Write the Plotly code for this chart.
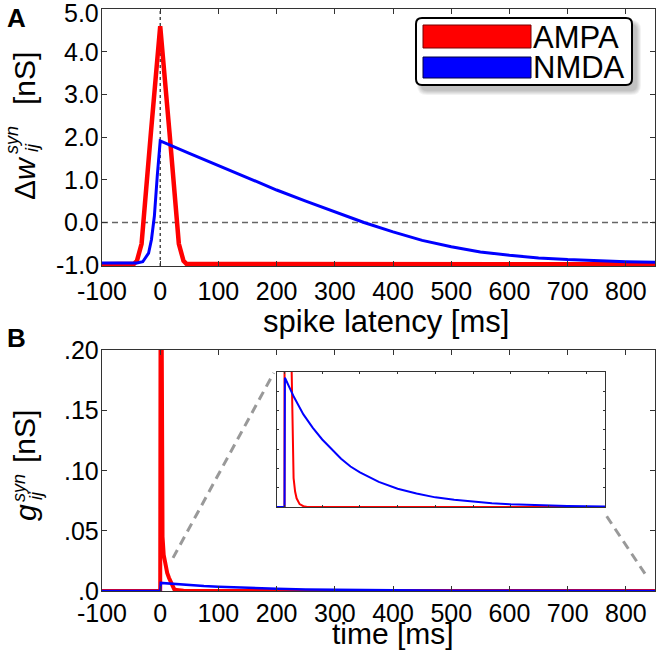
import plotly.graph_objects as go

# ---- data ----
# panel A: STDP window, spike latency [ms] vs weight change [nS]
lat_ampa = [-100, -45, -40, -32, -16, 0, 16, 32, 40, 45, 850]
dw_ampa = [-0.98, -0.97, -0.9, -0.5, 2.1, 4.6, 2.1, -0.5, -0.9, -0.97, -0.98]

lat_nmda = [-100, -40, -30, -20, -15, -10, -5, 0, 50, 100, 150, 200, 250, 300,
            350, 400, 450, 500, 550, 600, 650, 700, 750, 800, 850]
dw_nmda = [-0.95, -0.95, -0.92, -0.72, -0.4, 0.15, 1.1, 1.91, 1.62, 1.33, 1.04,
           0.76, 0.5, 0.25, 0.0, -0.22, -0.42, -0.57, -0.69, -0.77, -0.83,
           -0.87, -0.9, -0.92, -0.93]

# panel B: conductance time course, time [ms] vs g [nS]
t_ampa = [-100, 0, 1, 2, 3, 4, 6, 9, 12, 15, 18, 20, 22, 24, 28, 32, 40, 50, 60, 850]
g_ampa = [0, 0, 0.4, 0.15, 0.07, 0.045, 0.03, 0.022, 0.015, 0.011, 0.008, 0.005,
          0.0025, 0.0015, 0.0008, 0.00045, 0.00015, 0.00004, 0, 0]

t_nmda = [-100, 0, 1, 25, 50, 75, 100, 125, 150, 175, 200, 250, 300, 350, 400,
          450, 500, 550, 600, 650, 700, 750, 850]
g_nmda = [0, 0, 0.0067, 0.0057, 0.0048, 0.0041, 0.0035, 0.0030, 0.0025, 0.0021,
          0.0018, 0.0013, 0.00095, 0.0007, 0.0005, 0.00037, 0.00027, 0.0002,
          0.00014, 0.0001, 0.00007, 0.00005, 0.00002]

x_ticks = [-100, 0, 100, 200, 300, 400, 500, 600, 700, 800]
x_tick_text = ["-100", "0", "100", "200", "300", "400", "500", "600", "700", "800"]
yA_ticks = [-1, 0, 1, 2, 3, 4, 5]
yA_tick_text = ["-1.0", "0.0", "1.0", "2.0", "3.0", "4.0", "5.0"]
yB_ticks = [0, 0.05, 0.10, 0.15, 0.20]
yB_tick_text = [".0", ".05", ".10", ".15", ".20"]
inset_xticks = [0, 100, 200, 300, 400, 500, 600, 700, 800]
inset_yticks = [0, 0.001, 0.002, 0.003, 0.004, 0.005, 0.006, 0.007]

names = ["AMPA", "NMDA"]
RED = "#ff0000"
BLUE = "#0000ff"

# ---- geometry (window pixels) ----
W, H = 666, 657
L, R, T, B = 102, 655, 9, 591       # plot area
PW, PH = R - L, B - T


def px(x):
    return (x - L) / PW


def py(y):
    return 1 - (y - T) / PH


FONT = "Liberation Sans, Arial, sans-serif"

fig = go.Figure()

fig.add_trace(go.Scatter(x=lat_ampa, y=dw_ampa, mode="lines", line=dict(color=RED, width=4.5),
                         xaxis="x", yaxis="y", name=names[0]))
fig.add_trace(go.Scatter(x=lat_nmda, y=dw_nmda, mode="lines", line=dict(color=BLUE, width=3),
                         xaxis="x", yaxis="y", name=names[1]))
fig.add_trace(go.Scatter(x=t_ampa, y=g_ampa, mode="lines", line=dict(color=RED, width=4),
                         xaxis="x2", yaxis="y2", name=names[0]))
fig.add_trace(go.Scatter(x=t_nmda, y=g_nmda, mode="lines", line=dict(color=BLUE, width=2.5),
                         xaxis="x2", yaxis="y2", name=names[1]))
fig.add_trace(go.Scatter(x=t_ampa, y=g_ampa, mode="lines", line=dict(color=RED, width=2),
                         xaxis="x3", yaxis="y3", name=names[0]))
fig.add_trace(go.Scatter(x=t_nmda, y=g_nmda, mode="lines", line=dict(color=BLUE, width=2),
                         xaxis="x3", yaxis="y3", name=names[1]))

ax = dict(showline=True, linecolor="#333", linewidth=1, mirror="ticks", ticks="inside",
          ticklen=5, tickcolor="#333", showgrid=False, zeroline=False, automargin=False,
          ticklabeloverflow="allow",
          tickfont=dict(family=FONT, size=25, color="black"))
yax = dict(ax, showticklabels=False)   # y tick labels are placed as annotations below

fig.update_layout(
    width=W, height=H,
    margin=dict(l=L, r=W - R, t=T, b=H - B),
    paper_bgcolor="white", plot_bgcolor="white",
    showlegend=False,
    font=dict(family=FONT, color="black"),
    xaxis=dict(ax, domain=[0, 1], anchor="y", range=[-100, 850], ticklabelstandoff=3,
               tickvals=x_ticks, ticktext=x_tick_text),
    yaxis=dict(yax, domain=[py(266), 1], anchor="x", range=[-1.02, 5.0],
               tickvals=yA_ticks),
    xaxis2=dict(ax, domain=[0, 1], anchor="y2", range=[-100, 850], ticklabelstandoff=0,
                tickvals=x_ticks, ticktext=x_tick_text),
    yaxis2=dict(yax, domain=[0, py(350)], anchor="x2", range=[0, 0.2],
                tickvals=yB_ticks),
    xaxis3=dict(ax, domain=[px(277), px(605)], anchor="y3", range=[-20, 850],
                tickvals=inset_xticks, showticklabels=False, ticklen=2),
    yaxis3=dict(ax, domain=[py(507), py(372)], anchor="x3", range=[0, 0.007],
                tickvals=inset_yticks, showticklabels=False, ticklen=2),
)

shapes = []
# reference lines in panel A
shapes.append(dict(type="line", xref="x", yref="y", x0=-100, x1=850, y0=0, y1=0,
                   line=dict(color="#666", width=1.5, dash="6px,4px"), layer="below"))
shapes.append(dict(type="line", xref="x", yref="y", x0=0, x1=0, y0=-1.02, y1=5.0,
                   line=dict(color="#222", width=1.2, dash="3px,3px"), layer="below"))
# zoom connector lines in panel B
shapes.append(dict(type="line", xref="x2", yref="y2", x0=22, y0=0.0275, x1=195, y1=0.181,
                   line=dict(color="#999", width=3, dash="9px,6px")))
shapes.append(dict(type="line", xref="x2", yref="y2", x0=767, y0=0.062, x1=836, y1=0.012,
                   line=dict(color="#999", width=3, dash="9px,6px")))


def rrect(x0, y0, x1, y1, r):
    pts = [("M", [(x0 + r, y0)]), ("L", [(x1 - r, y0)]), ("Q", [(x1, y0), (x1, y0 + r)]),
           ("L", [(x1, y1 - r)]), ("Q", [(x1, y1), (x1 - r, y1)]), ("L", [(x0 + r, y1)]),
           ("Q", [(x0, y1), (x0, y1 - r)]), ("L", [(x0, y0 + r)]), ("Q", [(x0, y0), (x0 + r, y0)])]
    s = ""
    for cmd, ps in pts:
        s += cmd + " " + " ".join(f"{px(a):.5f},{py(b):.5f}" for a, b in ps) + " "
    return s + "Z"


# legend: shadow, box, swatches
for i in range(5):
    shapes.append(dict(type="path", xref="paper", yref="paper",
                       path=rrect(416 + 5 - i, 18 + 6 - i, 632 + 5 + i, 85 + 6 + i, 6 + i),
                       fillcolor="rgba(0,0,0,0.05)", line=dict(width=0)))
shapes.append(dict(type="path", xref="paper", yref="paper", path=rrect(416, 18, 632, 85, 6),
                   fillcolor="white", line=dict(color="black", width=2)))
shapes.append(dict(type="rect", xref="paper", yref="paper", x0=px(423), x1=px(531),
                   y0=py(48), y1=py(25), fillcolor=RED, line=dict(color="#700", width=1)))
shapes.append(dict(type="rect", xref="paper", yref="paper", x0=px(423), x1=px(531),
                   y0=py(78), y1=py(57), fillcolor=BLUE, line=dict(color="#004", width=1)))
fig.update_layout(shapes=shapes)


def note(text, x, y, size, angle=0, xanchor="center", bold=False):
    if bold:
        text = f"<b>{text}</b>"
    fig.add_annotation(text=text, x=px(x), y=py(y), xref="paper", yref="paper",
                       showarrow=False, textangle=angle, xanchor=xanchor, yanchor="middle",
                       font=dict(family=FONT, size=size, color="black"))


# y tick labels, right-aligned close to the axis (the top one nudged down to stay on the page)
for val, txt in zip(yA_ticks, yA_tick_text):
    fig.add_annotation(text=txt, x=px(101), y=val, xref="paper", yref="y", showarrow=False,
                       xanchor="right", yanchor="middle", yshift=-4 if val == yA_ticks[-1] else 0,
                       font=dict(family=FONT, size=25, color="black"))
for val, txt in zip(yB_ticks, yB_tick_text):
    fig.add_annotation(text=txt, x=px(101), y=val, xref="paper", yref="y2", showarrow=False,
                       xanchor="right", yanchor="middle",
                       font=dict(family=FONT, size=25, color="black"))

note(names[0], 531, 37, 31, xanchor="left")
note(names[1], 531, 68, 31, xanchor="left")

note("A", 16, 18, 26, bold=True)
note("B", 16, 338, 26, bold=True)

note("spike latency [ms]", 386, 321, 31)
note("time [ms]", 393, 633, 30)

# y titles, built from pieces so syn/ij stack
note("Δ<i>w</i>", 24, 178, 30, angle=-90)
note("<i>syn</i>", 12, 140, 18, angle=-90)
note("<i>ij</i>", 32, 148, 18, angle=-90)
note("[nS]", 24, 79, 30, angle=-90)

note("<i>g</i>", 25, 513, 30, angle=-90)
note("<i>syn</i>", 19, 488, 18, angle=-90)
note("<i>ij</i>", 36, 496, 18, angle=-90)
note("[nS]", 24, 437, 30, angle=-90)

# the page body has a default 8px margin; drop it so the figure sits at the window corner
fig.write_html("out.html", config={"displayModeBar": False},
               post_script="document.body.style.margin = '0px';")
